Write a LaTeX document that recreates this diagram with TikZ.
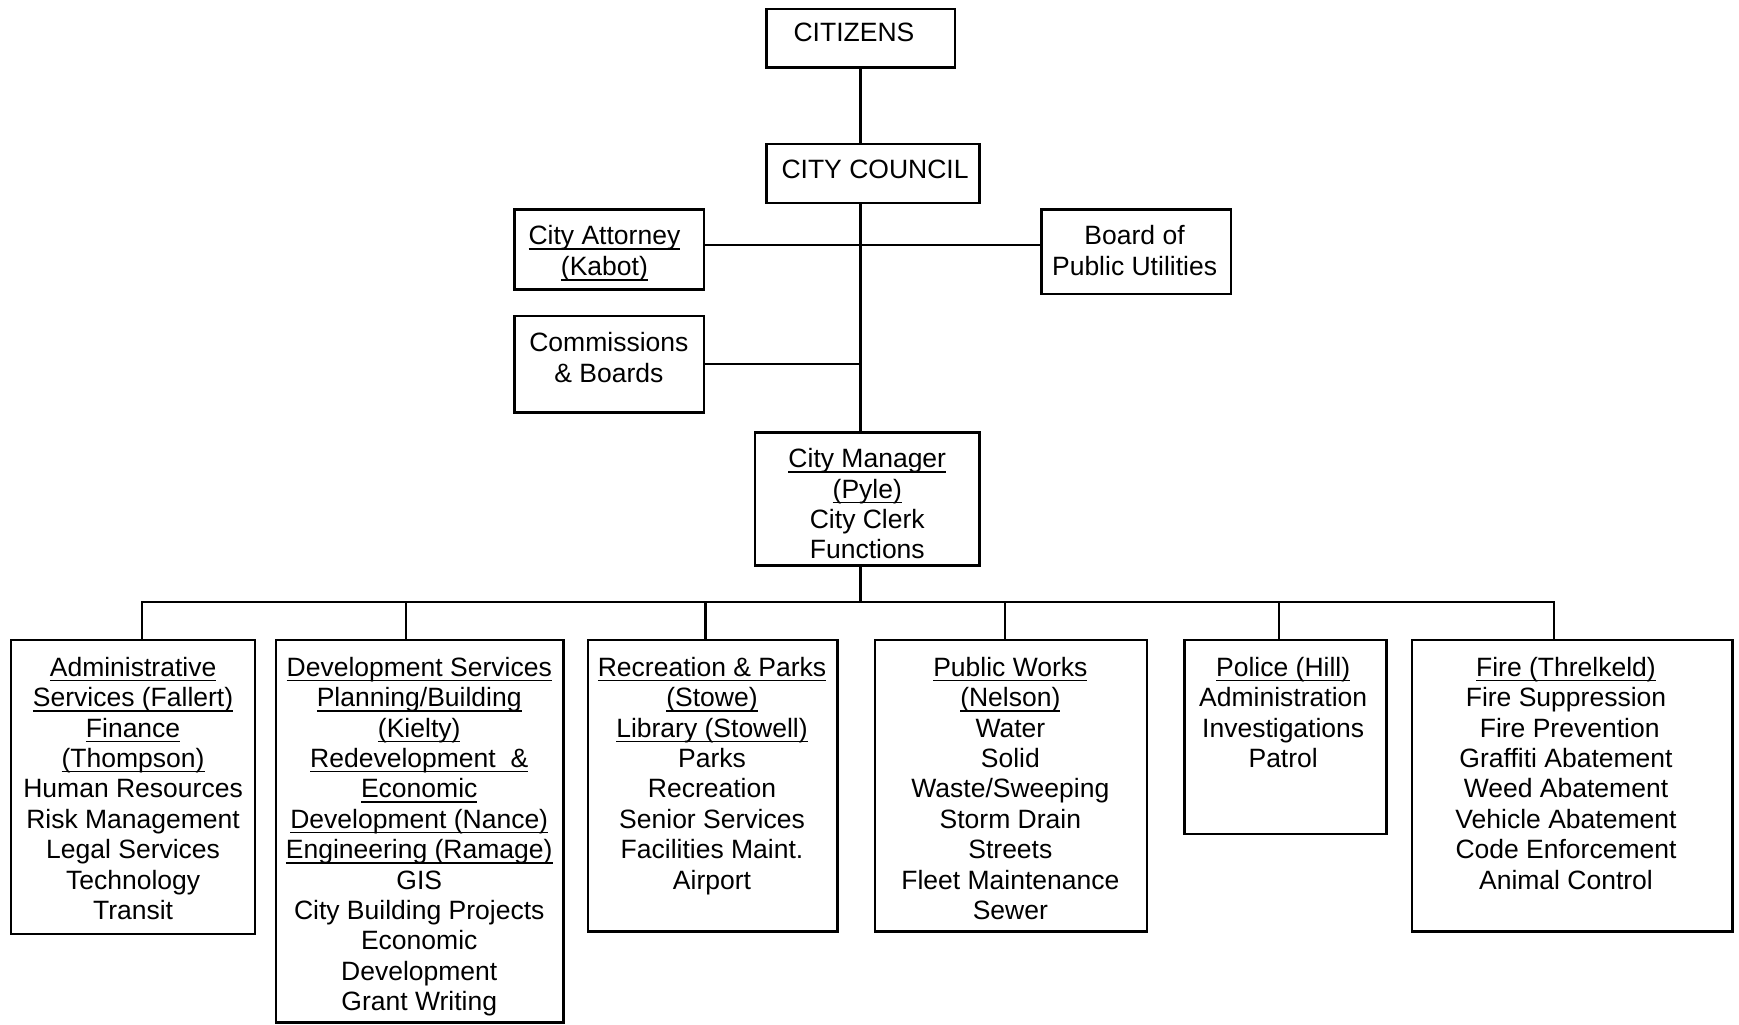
\documentclass[tikz,border=0pt]{standalone}
\usepackage{fontspec}
\setmainfont{Liberation Sans}
\newcommand\uln[1]{\setbox0\hbox{#1}\rlap{\rule[-4.5pt]{\wd0}{1.3pt}}\box0}
\newcommand\fs{\rule{0pt}{20pt}}
\tikzset{
  box/.style={draw, line width=2.2pt, anchor=north west, inner sep=0pt, outer sep=0pt},
  txt/.style={anchor=north, align=center, inner sep=0pt, font=\fontsize{23.9}{27.4}\selectfont},
  conn/.style={line width=2.2pt, line cap=rect},
}
\begin{document}
\begin{tikzpicture}[x=1pt,y=-1pt]
\useasboundingbox[fill=white] (0,0) rectangle (1568,924);
% top boxes
\node[box, minimum width=170pt, minimum height=53pt] (cit) at (691,8) {};
\node[txt] (citT) at (770,17.6) {\fs CITIZENS};
\node[box, minimum width=192pt, minimum height=53pt] (cc) at (691,130) {};
\node[txt] (ccT) at (789,140.6) {\fs CITY COUNCIL};
\node[box, minimum width=171pt, minimum height=72pt] (att) at (464,189) {};
\node[txt, font=\fontsize{23.9}{28}\selectfont] (attT) at (545,200.6) {\fs\uln{City Attorney}\\\uln{(Kabot)}};
\node[box, minimum width=171pt, minimum height=76pt] (bpu) at (939,189) {};
\node[txt, font=\fontsize{23.9}{27.4}\selectfont] (bpuT) at (1023,200.6) {\fs Board of\\Public Utilities};
\node[box, minimum width=171pt, minimum height=87pt] (com) at (464,285) {};
\node[txt, font=\fontsize{23.9}{28}\selectfont] (comT) at (549,296.6) {\fs Commissions\\\& Boards};
\node[box, minimum width=202pt, minimum height=120pt] (cm) at (681,390) {};
\node[txt] (cmT) at (782,401.6) {\fs\uln{City Manager}\\\uln{(Pyle)}\\City Clerk\\Functions};
% bottom boxes
\node[box, minimum width=220pt, minimum height=265pt] (adm) at (10,577) {};
\node[txt] (admT) at (120,589.6) {\fs\uln{Administrative}\\\uln{Services (Fallert)}\\\uln{Finance}\\\uln{(Thompson)}\\Human Resources\\Risk Management\\Legal Services\\Technology\\Transit};
\node[box, minimum width=259pt, minimum height=345pt] (dev) at (249,577) {};
\node[txt] (devT) at (378,589.6) {\fs\uln{Development Services}\\\uln{Planning/Building}\\\uln{(Kielty)}\\\uln{Redevelopment\ \ \&}\\\uln{Economic}\\\uln{Development (Nance)}\\\uln{Engineering (Ramage)}\\GIS\\City Building Projects\\Economic\\Development\\Grant Writing};
\node[box, minimum width=225pt, minimum height=263pt] (rec) at (530,577) {};
\node[txt] (recT) at (642,589.6) {\fs\uln{Recreation \& Parks}\\\uln{(Stowe)}\\\uln{Library (Stowell)}\\Parks\\Recreation\\Senior Services\\Facilities Maint.\\Airport};
\node[box, minimum width=245pt, minimum height=263pt] (pw) at (789,577) {};
\node[txt] (pwT) at (911,589.6) {\fs\uln{Public Works}\\\uln{(Nelson)}\\Water\\Solid\\Waste/Sweeping\\Storm Drain\\Streets\\Fleet Maintenance\\Sewer};
\node[box, minimum width=182pt, minimum height=175pt] (pol) at (1068,577) {};
\node[txt] (polT) at (1157,589.6) {\fs\uln{Police (Hill)}\\Administration\\Investigations\\Patrol};
\node[box, minimum width=289pt, minimum height=263pt] (fire) at (1273,577) {};
\node[txt] (fireT) at (1412,589.6) {\fs\uln{Fire (Threlkeld)}\\Fire Suppression\\\ Fire Prevention\\Graffiti Abatement\\Weed Abatement\\Vehicle Abatement\\Code Enforcement\\Animal Control};
% junctions
\coordinate (h1) at (776,221);
\coordinate (h2) at (776,328);
\coordinate (bc) at (776,543);
\coordinate (b1) at (128,543);
\coordinate (b2) at (366,543);
\coordinate (b3) at (636,543);
\coordinate (b4) at (906,543);
\coordinate (b5) at (1153,543);
\coordinate (b6) at (1401,543);
% connectors
\draw[conn] (cit.south) -- (cit.south |- cc.north);
\draw[conn] (cc.south -| cit.south) -- (cm.north -| cit.south);
\draw[conn] (att.east |- h1) -- (bpu.west |- h1);
\draw[conn] (com.east |- h2) -- (h2);
\draw[conn] (cm.south -| bc) -- (bc);
\draw[conn] (b1) -- (b6);
\draw[conn] (b1) -- (adm.north -| b1);
\draw[conn] (b2) -- (dev.north -| b2);
\draw[conn] (b3) -- (rec.north -| b3);
\draw[conn] (b4) -- (pw.north -| b4);
\draw[conn] (b5) -- (pol.north -| b5);
\draw[conn] (b6) -- (fire.north -| b6);
\end{tikzpicture}
\end{document}
